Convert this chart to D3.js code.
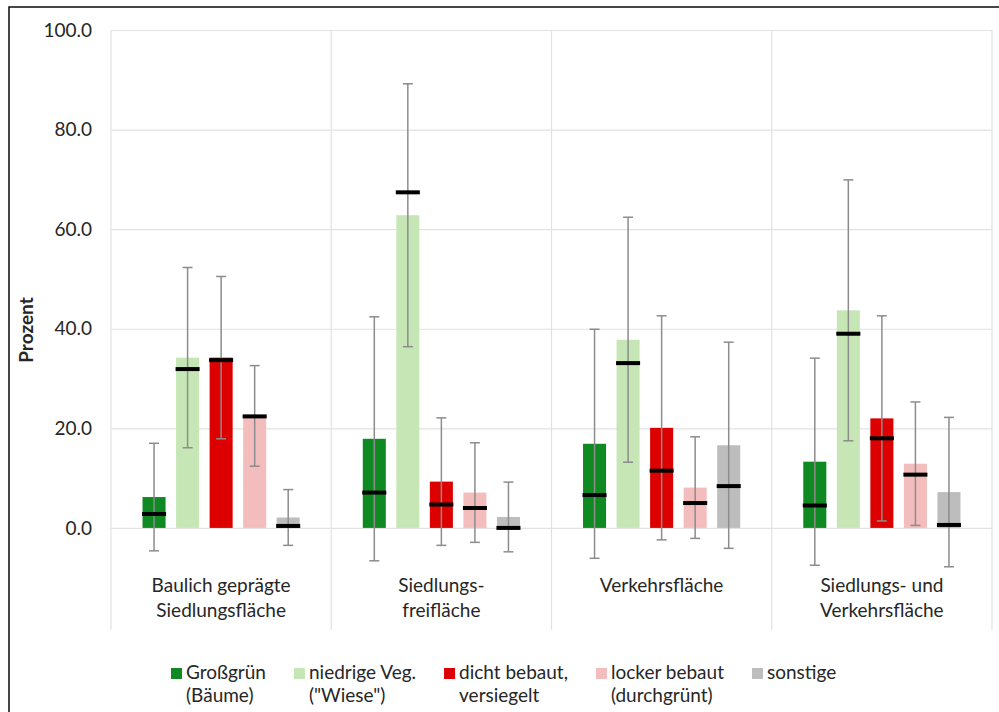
<!DOCTYPE html>
<html>
<head>
<meta charset="utf-8">
<script src="https://cdnjs.cloudflare.com/ajax/libs/d3/7.8.5/d3.min.js"></script>
<style>
  body { margin: 0; background: #fff; }
  svg { display: block; font-family: Lato, "Open Sans", sans-serif; }
</style>
</head>
<body>
<div id="chart"></div>
<script>
// categories on the x axis (multi-line labels)
var categories = [
    ["Baulich geprägte", "Siedlungsfläche"],
    ["Siedlungs-", "freifläche"],
    ["Verkehrsfläche"],
    ["Siedlungs- und", "Verkehrsfläche"]
];

// legend entries / series
var seriesNames = [
    ["Großgrün", "(Bäume)"],
    ["niedrige Veg.", "(\"Wiese\")"],
    ["dicht bebaut,", "versiegelt"],
    ["locker bebaut", "(durchgrünt)"],
    ["sonstige"]
];
var seriesColors = ["#0f8a22", "#c6e7b5", "#dc0000", "#f4bdbd", "#bdbdbd"];

// mean (bar height), one row per category, one value per series
var means = [
    [6.2, 34.2, 34.2, 22.5, 2.1],
    [17.9, 62.8, 9.3, 7.1, 2.2],
    [16.9, 37.8, 20.1, 8.1, 16.6],
    [13.3, 43.7, 22.0, 12.9, 7.2]
];
// standard deviation (error bars)
var sds = [
    [10.8, 18.1, 16.3, 10.1, 5.6],
    [24.5, 26.4, 12.8, 10.0, 7.0],
    [23.0, 24.6, 22.5, 10.2, 20.7],
    [20.8, 26.2, 20.6, 12.4, 15.0]
];
// median (black marks)
var medians = [
    [2.8, 31.9, 33.7, 22.4, 0.4],
    [7.1, 67.4, 4.7, 4.0, 0.0],
    [6.6, 33.1, 11.5, 5.0, 8.4],
    [4.5, 39.0, 18.0, 10.7, 0.6]
];

var yTicks = [0, 20, 40, 60, 80, 100];

// layout
var width = 999, height = 712;
var plot = { left: 111, right: 992, top: 30, bottom: 630 };
var textColor = "#262626";

var svg = d3.select("#chart").append("svg")
    .attr("width", width)
    .attr("height", height);

// outer frame (only top and left edges visible)
svg.append("rect")
    .attr("x", 9).attr("y", 7)
    .attr("width", 1100).attr("height", 800)
    .attr("fill", "none")
    .attr("stroke", "#1a1a1a")
    .attr("stroke-width", 1.6);

var x0 = d3.scaleBand()
    .domain(d3.range(categories.length))
    .range([plot.left, plot.right]);

var x1 = d3.scaleBand()
    .domain(d3.range(seriesNames.length))
    .range([0, x0.bandwidth()])
    .paddingInner(0.313)
    .paddingOuter(0.94);

var y = d3.scaleLinear()
    .domain([-20.5, 100])
    .range([plot.bottom, plot.top]);

// horizontal gridlines + tick labels
var yAxis = d3.axisLeft(y)
    .tickValues(yTicks)
    .tickFormat(d3.format(".1f"))
    .tickSizeInner(-(plot.right - plot.left))
    .tickSizeOuter(0)
    .tickPadding(19);

var gy = svg.append("g")
    .attr("transform", "translate(" + plot.left + ",0)")
    .call(yAxis);
gy.select(".domain").remove();
gy.selectAll(".tick line")
    .attr("stroke", "#e2e2e2")
    .attr("stroke-width", 1.2);
gy.selectAll(".tick text")
    .attr("fill", textColor)
    .style("font-size", "19px")
    .style("font-family", "Lato, sans-serif");

// vertical gridlines between categories
var edges = d3.range(categories.length).map(function(i) { return x0(i); });
edges.push(plot.right);
svg.append("g").selectAll("line")
    .data(edges)
    .enter().append("line")
    .attr("x1", function(d) { return d; })
    .attr("x2", function(d) { return d; })
    .attr("y1", plot.top)
    .attr("y2", plot.bottom)
    .attr("stroke", "#e2e2e2")
    .attr("stroke-width", 1.2);

// y axis title
svg.append("text")
    .attr("transform", "translate(33," + ((plot.top + plot.bottom) / 2) + ") rotate(-90)")
    .attr("text-anchor", "middle")
    .attr("fill", textColor)
    .style("font-size", "19px")
    .style("font-weight", "bold")
    .text("Prozent");

// flatten into one record per bar
var bars = [];
categories.forEach(function(c, ci) {
    seriesNames.forEach(function(s, si) {
        bars.push({
            ci: ci, si: si,
            mean: means[ci][si],
            sd: sds[ci][si],
            median: medians[ci][si]
        });
    });
});

var bx = function(d) { return x0(d.ci) + x1(d.si); };
var bw = x1.bandwidth();
var cx = function(d) { return bx(d) + bw / 2; };

var g = svg.append("g");

// bars
g.selectAll("rect.bar")
    .data(bars)
    .enter().append("rect")
    .attr("class", "bar")
    .attr("x", bx)
    .attr("y", function(d) { return y(Math.max(d.mean, 0)); })
    .attr("width", bw)
    .attr("height", function(d) { return Math.abs(y(0) - y(d.mean)); })
    .attr("fill", function(d) { return seriesColors[d.si]; });

// error bars (mean +/- sd)
var errColor = "#8c8c8c";
var eb = g.selectAll("g.err")
    .data(bars)
    .enter().append("g")
    .attr("class", "err")
    .attr("stroke", errColor)
    .attr("stroke-width", 1.5);
eb.append("line")
    .attr("x1", cx).attr("x2", cx)
    .attr("y1", function(d) { return y(d.mean + d.sd); })
    .attr("y2", function(d) { return y(d.mean - d.sd); });
eb.append("line")
    .attr("x1", function(d) { return cx(d) - 5; })
    .attr("x2", function(d) { return cx(d) + 5; })
    .attr("y1", function(d) { return y(d.mean + d.sd); })
    .attr("y2", function(d) { return y(d.mean + d.sd); });
eb.append("line")
    .attr("x1", function(d) { return cx(d) - 5; })
    .attr("x2", function(d) { return cx(d) + 5; })
    .attr("y1", function(d) { return y(d.mean - d.sd); })
    .attr("y2", function(d) { return y(d.mean - d.sd); });

// medians
g.selectAll("rect.median")
    .data(bars)
    .enter().append("rect")
    .attr("class", "median")
    .attr("x", function(d) { return bx(d) - 0.5; })
    .attr("y", function(d) { return y(d.median) - 2; })
    .attr("width", bw + 1)
    .attr("height", 4)
    .attr("fill", "#000");

// category labels
var cl = svg.append("g").selectAll("text")
    .data(categories)
    .enter().append("text")
    .attr("text-anchor", "middle")
    .attr("fill", textColor)
    .style("font-size", "19px");
cl.selectAll("tspan")
    .data(function(d, i) { return d.map(function(t) { return { t: t, i: i }; }); })
    .enter().append("tspan")
    .attr("x", function(d) { return x0(d.i) + x0.bandwidth() / 2; })
    .attr("y", function(d, j) { return 592 + j * 25; })
    .text(function(d) { return d.t; });

// legend, laid out from measured text widths
var legend = svg.append("g");
var lx = 171;
seriesNames.forEach(function(lines, si) {
    var item = legend.append("g");
    item.append("rect")
        .attr("x", lx).attr("y", 668)
        .attr("width", 11).attr("height", 11)
        .attr("fill", seriesColors[si]);
    var maxw = 0;
    lines.forEach(function(t, j) {
        var txt = item.append("text")
            .attr("x", lx + 15)
            .attr("y", 678.5 + j * 23.5)
            .attr("fill", textColor)
            .style("font-size", "19px")
            .text(t);
        maxw = Math.max(maxw, txt.node().getComputedTextLength());
    });
    lx += 15 + maxw + 28;
});
</script>
</body>
</html>
